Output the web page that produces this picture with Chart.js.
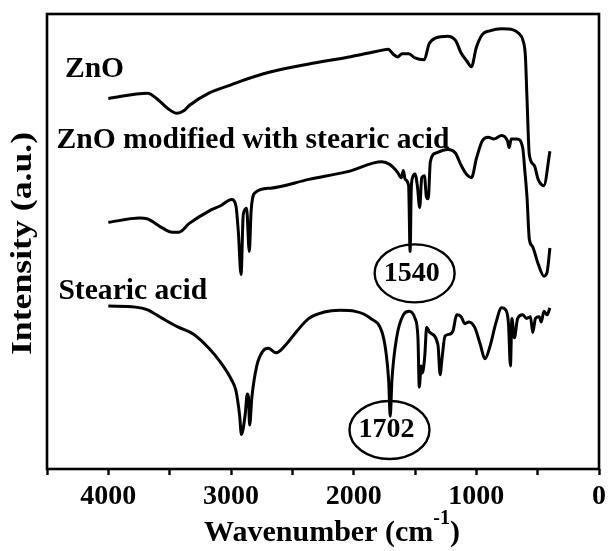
<!DOCTYPE html>
<html>
<head>
<meta charset="utf-8">
<script src="https://cdn.jsdelivr.net/npm/chart.js@4.4.0/dist/chart.umd.min.js"></script>
<style>
  html, body { margin: 0; padding: 0; background: #fff; }
</style>
</head>
<body>
<canvas id="ftirChart" width="611" height="551"></canvas>
<script>
const seriesNames = ['ZnO', 'ZnO modified with stearic acid', 'Stearic acid'];

const znoWave = [4000, 3680, 3590, 3510, 3440, 3385, 3340, 3180, 2990, 2930,
  2680, 2365, 2050, 1770, 1720, 1675, 1640, 1605, 1550, 1500,
  1425, 1385, 1330, 1235, 1170, 1125, 1075, 1040, 1000, 950,
  890, 795, 700, 655, 620, 600, 587, 568, 528, 496, 450, 400];
const znoIntensity = [105.3, 106.8, 104.8, 102.3, 101.1, 101.8, 103.3, 106.8, 109.3, 110.1,
  112.8, 115.1, 117.0, 119.0, 119.3, 117.8, 117.1, 118.0, 118.0, 116.8,
  116.3, 120.8, 122.5, 123.0, 121.8, 118.3, 115.8, 114.3, 119.8, 123.5,
  124.5, 125.1, 124.8, 123.8, 121.8, 117.3, 105.3, 89.3, 86.3, 82.3, 80.5, 90.3];

const modWave = [4000, 3745, 3685, 3560, 3480, 3425, 3340, 3180, 3085, 2995,
  2960, 2940, 2918, 2900, 2873, 2851, 2836, 2805, 2680, 2365,
  2050, 1770, 1705, 1642, 1611, 1595, 1580, 1552, 1540, 1530,
  1520, 1500, 1480, 1462, 1445, 1423, 1407, 1392, 1375, 1328,
  1234, 1171, 1124, 1077, 1039, 999, 951, 904, 857, 794,
  747, 732, 716, 669, 622, 606, 587, 568, 543, 496, 449, 424, 400];
const modIntensity = [70.1, 71.3, 71.1, 68.5, 67.3, 67.3, 69.8, 73.3, 74.8, 76.6,
  74.8, 67.3, 55.3, 72.3, 74.1, 61.8, 73.3, 78.5, 79.8, 82.3,
  84.5, 87.3, 86.5, 84.3, 82.8, 84.8, 82.3, 80.5, 61.8, 80.0,
  82.8, 83.8, 80.3, 74.3, 82.8, 83.3, 77.3, 76.8, 87.3, 89.8,
  90.8, 89.8, 86.3, 83.6, 82.8, 88.3, 93.3, 94.3, 93.8, 94.8,
  93.3, 91.3, 93.8, 93.8, 91.3, 85.3, 77.3, 65.3, 63.3, 58.3, 54.8, 55.8, 62.8];

const stearicWave = [4000, 3780, 3685, 3560, 3430, 3305, 3180, 3085, 2995, 2960,
  2930, 2915, 2885, 2867, 2858, 2848, 2830, 2790, 2740, 2695,
  2632, 2553, 2460, 2365, 2240, 2113, 1988, 1862, 1768, 1737,
  1715, 1702, 1688, 1650, 1595, 1548, 1500, 1476, 1465, 1450,
  1440, 1420, 1405, 1380, 1313, 1295, 1280, 1255, 1218, 1190,
  1160, 1124, 1093, 1061, 1014, 967, 930, 889, 842, 794,
  763, 738, 722, 710, 690, 663, 622, 590, 559, 540,
  518, 487, 471, 449, 424, 400];
const stearicIntensity = [46.3, 46.0, 45.3, 42.8, 40.3, 38.3, 34.3, 30.3, 25.3, 22.3,
  15.3, 9.8, 15.3, 21.3, 20.5, 12.5, 20.3, 29.3, 33.5, 34.3,
  33.0, 35.3, 39.3, 42.8, 44.6, 45.1, 44.8, 42.8, 38.8, 33.3,
  25.3, 15.0, 25.3, 37.3, 43.8, 44.8, 42.8, 37.3, 23.3, 29.3,
  27.3, 32.3, 40.3, 38.8, 35.3, 26.8, 31.3, 37.8, 38.3, 39.3,
  43.8, 43.3, 41.3, 41.8, 40.3, 35.3, 31.3, 34.8, 41.3, 45.8,
  45.3, 41.3, 29.3, 42.8, 37.3, 42.8, 43.8, 42.8, 43.3, 38.8,
  42.8, 43.3, 41.8, 44.8, 43.8, 45.8];

const xTicks = [0, 1000, 2000, 3000, 4000];
const peakLabels = ['1540', '1702'];

// where the text and the circled peak labels sit, in data units
const nameAnchors = [[4354, 111.5], [4423, 91.3], [4407, 48.4]];
const ellipseCenters = [[1503, 55.6], [1708, 11.1]];

const toPoints = (xs, ys) => xs.map((v, i) => ({ x: v, y: ys[i] }));

const serif = '"Liberation Serif", "Times New Roman", serif';

const decorations = {
  id: 'decorations',
  afterDraw(chart) {
    const { ctx, chartArea, scales: { x, y } } = chart;
    ctx.save();
    ctx.strokeStyle = '#000';
    ctx.fillStyle = '#000';

    // frame
    ctx.lineWidth = 2.6;
    ctx.strokeRect(chartArea.left, chartArea.top,
      chartArea.right - chartArea.left, chartArea.bottom - chartArea.top);

    // series names
    ctx.font = 'bold 29.6px ' + serif;
    ctx.textAlign = 'left';
    ctx.textBaseline = 'alphabetic';
    seriesNames.forEach((name, i) => {
      ctx.fillText(name, x.getPixelForValue(nameAnchors[i][0]), y.getPixelForValue(nameAnchors[i][1]));
    });

    // circled peak labels
    ctx.lineWidth = 2.4;
    ctx.font = 'bold 28px ' + serif;
    ctx.textAlign = 'center';
    ctx.textBaseline = 'middle';
    peakLabels.forEach((txt, i) => {
      const cx = x.getPixelForValue(ellipseCenters[i][0]);
      const cy = y.getPixelForValue(ellipseCenters[i][1]);
      ctx.beginPath();
      ctx.ellipse(cx, cy, 40, 29, 0, 0, Math.PI * 2);
      ctx.stroke();
      ctx.fillText(txt, cx - 3, cy);
    });

    // x axis title with superscript
    ctx.textAlign = 'left';
    ctx.textBaseline = 'alphabetic';
    const main = 'Wavenumber (cm';
    ctx.font = 'bold 30px ' + serif;
    const wMain = ctx.measureText(main).width;
    ctx.font = 'bold 20px ' + serif;
    const wSup = ctx.measureText('-1').width;
    ctx.font = 'bold 30px ' + serif;
    const wEnd = ctx.measureText(')').width;
    const total = wMain + wSup + wEnd;
    const startX = (chartArea.left + chartArea.right) / 2 + 9 - total / 2;
    const base = chart.height - 10;
    ctx.fillText(main, startX, base);
    ctx.font = 'bold 20px ' + serif;
    ctx.fillText('-1', startX + wMain, base - 17);
    ctx.font = 'bold 30px ' + serif;
    ctx.fillText(')', startX + wMain + wSup, base);

    // y axis title, rotated
    ctx.translate(23.5, (chartArea.top + chartArea.bottom) / 2 + 2);
    ctx.rotate(-Math.PI / 2);
    ctx.scale(1.19, 1);
    ctx.textAlign = 'center';
    ctx.textBaseline = 'middle';
    ctx.font = 'bold 30px ' + serif;
    ctx.fillText('Intensity (a.u.)', 0, 0);
    ctx.restore();
  }
};

const ctx = document.getElementById('ftirChart').getContext('2d');
const ftirChart = new Chart(ctx, {
  type: 'line',
  data: {
    datasets: [
      { label: seriesNames[0], data: toPoints(znoWave, znoIntensity) },
      { label: seriesNames[1], data: toPoints(modWave, modIntensity) },
      { label: seriesNames[2], data: toPoints(stearicWave, stearicIntensity) }
    ]
  },
  options: {
    responsive: false,
    animation: false,
    layout: { padding: { top: 14, right: 7, left: 0, bottom: 0 } },
    elements: {
      line: { borderColor: '#000', borderWidth: 3, cubicInterpolationMode: 'monotone', fill: false },
      point: { radius: 0 }
    },
    plugins: {
      legend: { display: false },
      tooltip: { enabled: false }
    },
    scales: {
      x: {
        type: 'linear',
        reverse: true,
        min: 0,
        max: 4500,
        afterFit: (scale) => { scale.height = 82; },
        ticks: {
          stepSize: 500,
          autoSkip: false,
          maxRotation: 0,
          padding: 5,
          color: '#000',
          font: { family: serif, size: 28, weight: 'bold' },
          callback: (v) => xTicks.includes(v) ? String(v) : ''
        },
        grid: { drawOnChartArea: false, tickLength: 6, tickColor: '#000', tickWidth: 2.4 },
        border: { display: false }
      },
      y: {
        min: 0,
        max: 129.3,
        afterFit: (scale) => { scale.width = 47; },
        ticks: { display: false },
        grid: { display: false },
        border: { display: false }
      }
    }
  },
  plugins: [decorations]
});
</script>
</body>
</html>
